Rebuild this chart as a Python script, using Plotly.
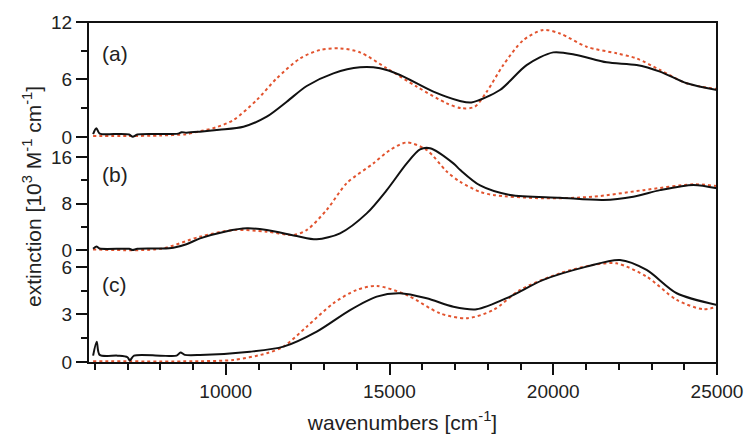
import plotly.graph_objects as go

# ---- data (wavenumbers in cm^-1, extinction in 10^3 M^-1 cm^-1) ----
a_black_x = [5950, 6050, 6150, 6600, 7050, 7160, 7300, 8000, 8550, 8650, 8800, 9214, 9800, 10540, 11252, 11863,
             12473, 13287, 14100, 14710, 15321, 16340, 17150, 17500, 18372, 19186, 20000, 20713, 21630, 22545,
             23260, 24075, 25000]
a_black_y = [0.3, 0.9, 0.35, 0.3, 0.25, 0.02, 0.25, 0.3, 0.35, 0.5, 0.45, 0.55, 0.75, 1.07, 2.12, 3.68,
             5.32, 6.64, 7.27, 7.17, 6.47, 4.73, 3.76, 3.6, 4.9, 7.5, 8.83, 8.56, 7.79, 7.51,
             6.82, 5.6, 4.9]
a_red_x = [5950, 7000, 8000, 8800, 9214, 9700, 10235, 10948, 11557, 12270, 12880, 13490, 14100, 14916, 15832,
           16748, 17200, 17600, 17970, 18473, 19084, 19695, 20204, 21018, 21934, 22545, 23260, 24075, 25000]
a_red_y = [0.1, 0.1, 0.15, 0.3, 0.6, 1.0, 1.77, 3.86, 6.12, 8.2, 9.08, 9.25, 8.83, 7.17, 5.25,
           3.51, 3.0, 3.15, 4.73, 7.5, 10.1, 11.17, 10.8, 9.42, 8.73, 8.2, 6.99, 5.6, 5.0]

b_black_x = [5950, 6050, 6150, 7050, 7160, 7300, 8000, 8400, 8800, 9214, 10000, 10650, 11252, 12168, 12778,
             13490, 14304, 14916, 15527, 15933, 16239, 16951, 17153, 17766, 18682, 20204, 21527, 22443, 23260,
             24275, 25000]
b_black_y = [0.2, 0.6, 0.25, 0.2, 0.0, 0.2, 0.25, 0.4, 1.0, 2.0, 3.2, 3.73, 3.44, 2.41, 1.84,
             2.87, 6.3, 10.3, 14.9, 17.3, 17.5, 14.9, 13.8, 11.1, 9.46, 9.0, 8.6, 9.17, 10.3,
             11.2, 10.6]
b_red_x = [5950, 8000, 9214, 10235, 11252, 12066, 12473, 13083, 13694, 14507, 15016, 15527, 16137, 16748,
           17153, 17766, 18170, 19695, 21222, 22750, 24275, 25000]
b_red_y = [0.1, 0.2, 2.3, 3.44, 3.15, 2.58, 3.44, 6.9, 11.5, 14.9, 17.2, 18.5, 17.2, 13.5,
           11.75, 10.0, 9.46, 8.9, 9.17, 10.3, 11.3, 11.0]

c_black_x = [5950, 6060, 6150, 6700, 7000, 7070, 7200, 8000, 8500, 8620, 8750, 9214, 10740, 11761, 12778,
             13796, 14610, 15321, 16137, 16951, 17660, 18682, 19695, 21018, 22036, 22850, 23770, 25000]
c_black_y = [0.4, 1.28, 0.45, 0.4, 0.3, 0.1, 0.4, 0.4, 0.4, 0.6, 0.45, 0.44, 0.65, 0.97, 1.92,
             3.28, 4.13, 4.34, 4.02, 3.49, 3.33, 4.13, 5.18, 6.02, 6.44, 5.81, 4.34, 3.6]
c_red_x = [5950, 9214, 10235, 11252, 11761, 12473, 13287, 14000, 14610, 15527, 16544, 17357, 18170, 18987,
           20204, 21222, 21934, 22850, 23770, 24580, 25000]
c_red_y = [0.05, 0.05, 0.13, 0.55, 0.97, 2.23, 3.71, 4.55, 4.8, 4.23, 3.07, 2.76, 3.28, 4.55,
           5.6, 6.13, 6.23, 5.39, 3.92, 3.33, 3.49]

panel_labels = ["(a)", "(b)", "(c)"]
y_major = [[0, 6, 12], [0, 8, 16], [0, 3, 6]]
y_minor = [[3, 9], [4, 12], [1.5, 4.5]]
x_major = [10000, 15000, 20000, 25000]
x_minor = [v for v in range(6000, 25001, 1000) if v not in x_major]

BLACK = "#111111"
RED = "#e2532e"
FONT = "Liberation Sans, Arial, Helvetica, sans-serif"

fig = go.Figure()
series = [
    (a_black_x, a_black_y, a_red_x, a_red_y, "y"),
    (b_black_x, b_black_y, b_red_x, b_red_y, "y2"),
    (c_black_x, c_black_y, c_red_x, c_red_y, "y3"),
]
for bx, by, rx, ry, ax in series:
    fig.add_trace(go.Scatter(x=rx, y=ry, mode="lines", yaxis=ax, xaxis="x",
                             line=dict(color=RED, width=2, dash="dot", shape="spline", smoothing=0.8),
                             showlegend=False, hoverinfo="skip"))
    fig.add_trace(go.Scatter(x=bx, y=by, mode="lines", yaxis=ax, xaxis="x",
                             line=dict(color=BLACK, width=2, shape="spline", smoothing=0.8),
                             showlegend=False, hoverinfo="skip"))

# plot area pixels: top 22, bottom 363 (height 341)
H = 341.0
def frac(px):
    return (363 - px) / H

tick_font = dict(family=FONT, size=19, color="#222")
common_y = dict(showgrid=False, zeroline=False, showline=False, ticks="outside", ticklen=11,
                tickwidth=1.5, tickcolor=BLACK, tickfont=tick_font, anchor="x", fixedrange=True,
                automargin=False)

fig.update_layout(
    width=747, height=437,
    margin=dict(l=88, r=30, t=22, b=74, autoexpand=False),
    paper_bgcolor="white", plot_bgcolor="rgba(0,0,0,0)",
    xaxis=dict(range=[5794, 25000], tickvals=x_major, ticktext=[str(v) for v in x_major],
               showgrid=False, zeroline=False, showline=False, ticks="outside", ticklen=11,
               tickwidth=1.5, tickcolor=BLACK, tickfont=tick_font, anchor="y3", automargin=False,
               minor=dict(tickvals=x_minor, ticks="outside", ticklen=6, tickwidth=1.5, tickcolor=BLACK),
               title=dict(text="wavenumbers [cm<sup>-1</sup>]", font=dict(family=FONT, size=21, color="#222"),
                          standoff=14)),
    yaxis=dict(domain=[frac(150), 1], range=[-1.36, 12], tickvals=y_major[0],
               minor=dict(tickvals=y_minor[0], ticks="outside", ticklen=6, tickwidth=1.5, tickcolor=BLACK),
               **common_y),
    yaxis2=dict(domain=[frac(258), frac(138)], range=[-1.376, 19.27], tickvals=y_major[1],
                minor=dict(tickvals=y_minor[1], ticks="outside", ticklen=6, tickwidth=1.5, tickcolor=BLACK),
                **common_y),
    yaxis3=dict(domain=[0, frac(250)], range=[-0.063, 7.07], tickvals=y_major[2],
                minor=dict(tickvals=y_minor[2], ticks="outside", ticklen=6, tickwidth=1.5, tickcolor=BLACK),
                **common_y),
)

# frame
fig.add_shape(type="rect", xref="paper", yref="paper", x0=0, x1=1, y0=0, y1=1,
              line=dict(color=BLACK, width=2), layer="above")

# panel labels
label_px = [53, 174, 284]
for lab, py in zip(panel_labels, label_px):
    fig.add_annotation(text=lab, xref="paper", yref="paper", x=(100 - 88) / 629.0, y=frac(py),
                       xanchor="left", yanchor="middle", showarrow=False,
                       font=dict(family=FONT, size=21, color="#222"))

# y title
fig.add_annotation(text="extinction [10<sup>3</sup> M<sup>-1</sup> cm<sup>-1</sup>]",
                   xref="paper", yref="paper", x=(32 - 88) / 629.0, y=frac(197),
                   xanchor="center", yanchor="middle", textangle=-90, showarrow=False,
                   font=dict(family=FONT, size=21, color="#222"))

fig.write_html("out.html")
